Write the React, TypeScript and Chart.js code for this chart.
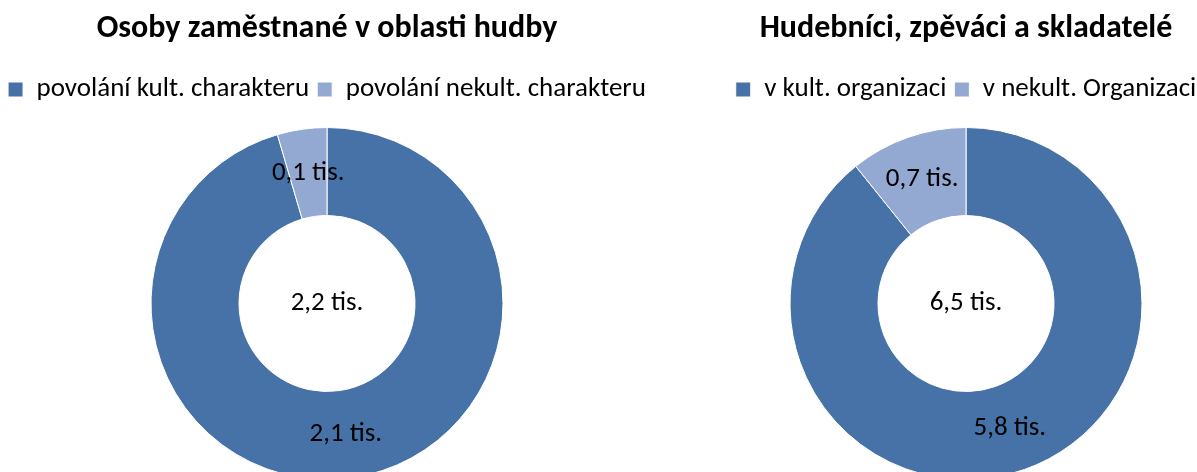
import React, { useEffect, useRef } from "react";
import { Chart, registerables } from "chart.js";

Chart.register(...registerables);

const leftTitle = "Osoby zaměstnané v oblasti hudby";
const leftCategories = ["povolání kult. charakteru", "povolání nekult. charakteru"];
const leftValues = [2.1, 0.1];

const rightTitle = "Hudebníci, zpěváci a skladatelé";
const rightCategories = ["v kult. organizaci", "v nekult. Organizaci"];
const rightValues = [5.8, 0.7];

const sliceColors = ["#4672A8", "#94A9D1"];
const FONT = "Carlito, Lato, 'Open Sans', sans-serif";

const fmt = (v: number) => `${v.toFixed(1).replace(".", ",")} tis.`;

const labelPlugin = {
  id: "donutLabels",
  afterDatasetsDraw(chart: any) {
    const { ctx } = chart;
    const meta = chart.getDatasetMeta(0);
    const data = chart.data.datasets[0].data as number[];
    ctx.save();
    ctx.fillStyle = "#000";
    ctx.font = `27px ${FONT}`;
    ctx.textAlign = "center";
    ctx.textBaseline = "middle";
    meta.data.forEach((arc: any, i: number) => {
      const p = arc.tooltipPosition();
      ctx.fillText(fmt(data[i]), p.x, p.y);
    });
    const total = data.reduce((a, b) => a + b, 0);
    const a0 = meta.data[0];
    ctx.fillText(fmt(total), a0.x, a0.y);
    ctx.restore();
  },
};

function Donut(props: { title: string; labels: string[]; values: number[]; width: number; left: number }) {
  const ref = useRef<HTMLCanvasElement>(null);
  useEffect(() => {
    const chart = new Chart(ref.current!, {
      type: "doughnut",
      data: {
        labels: props.labels,
        datasets: [
          {
            data: props.values,
            backgroundColor: sliceColors,
            borderColor: "#ffffff",
            borderWidth: 1,
          },
        ],
      },
      options: {
        responsive: false,
        animation: false,
        cutout: "50%",
        layout: { padding: 0 },
        plugins: {
          title: {
            display: true,
            text: props.title,
            color: "#000",
            font: { family: FONT, size: 32, weight: "bold", lineHeight: 1.2 },
            padding: { top: 10, bottom: 19.6 },
          },
          legend: {
            position: "top",
            labels: {
              color: "#000",
              font: { family: FONT, size: 27 },
              boxWidth: 15,
              boxHeight: 15,
              padding: 8,
            },
          },
          subtitle: {
            display: true,
            text: "",
            position: "top",
            weight: 500,
            font: { size: 1, lineHeight: 1 },
            padding: { top: 0, bottom: 13 },
          },
          tooltip: { enabled: false },
        },
      },
      plugins: [labelPlugin],
    });
    return () => chart.destroy();
  }, []);
  return (
    <canvas
      ref={ref}
      width={props.width}
      height={480}
      style={{ position: "absolute", left: props.left, top: 0, width: props.width, height: 480 }}
    />
  );
}

export default function App() {
  return (
    <div
      style={{
        position: "fixed",
        left: 0,
        top: 0,
        width: 1197,
        height: 472,
        overflow: "hidden",
        background: "#fff",
      }}
    >
      <Donut title={leftTitle} labels={leftCategories} values={leftValues} width={654} left={0} />
      <Donut title={rightTitle} labels={rightCategories} values={rightValues} width={480} left={726} />
    </div>
  );
}
